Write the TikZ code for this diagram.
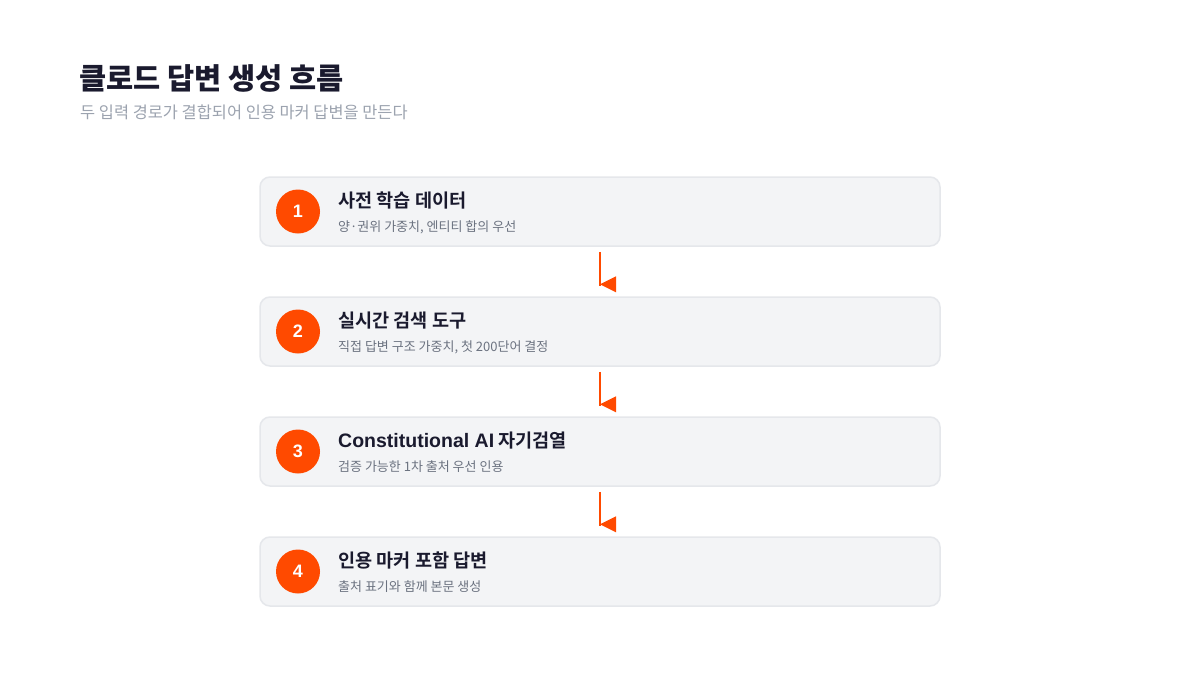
\documentclass[tikz,border=0pt]{standalone}
\usepackage{fontspec}
\setmainfont{Noto Sans CJK KR}[BoldFont={Noto Sans CJK KR Bold}]
\newfontfamily\heavyfont{Noto Sans CJK KR Black}
\newfontfamily\latinfont{Liberation Sans}
\usetikzlibrary{calc}
\definecolor{accent}{HTML}{FF4A00}
\definecolor{boxfill}{HTML}{F3F4F6}
\definecolor{boxline}{HTML}{E5E7EB}
\definecolor{titlecol}{HTML}{1A1A2E}
\definecolor{subcol}{HTML}{9CA3AF}
\definecolor{desccol}{HTML}{6B7280}
\newcommand{\lt}[1]{{\latinfont\fontsize{19.5}{21}\selectfont #1}}
\tikzset{
  stepbox/.style={draw=boxline, line width=1.5pt, fill=boxfill, rounded corners=10pt,
    minimum width=680pt, minimum height=69pt, inner sep=0pt},
  numdot/.style={circle, fill=accent, minimum size=44pt, inner sep=0pt,
    text=white, font=\latinfont\bfseries\fontsize{18}{20}\selectfont},
  steptitle/.style={anchor=west, inner sep=0pt, text=titlecol, font=\bfseries\fontsize{18.6}{21}\selectfont},
  stepdesc/.style={anchor=west, inner sep=0pt, text=desccol, font=\fontsize{13}{15}\selectfont},
  conn/.style={draw=accent, line width=2.8pt},
  tip/.style={fill=accent},
}
\begin{document}
\begin{tikzpicture}[x=1pt,y=-1pt]
\useasboundingbox[fill=white] (0,0) rectangle (1200,675);
\node[anchor=west, inner sep=0pt, text=titlecol, font=\heavyfont\fontsize{29.5}{32}\selectfont] (title) at (79,78) {클로드 답변 생성 흐름};
\node[anchor=west, inner sep=0pt, text=subcol, font=\fontsize{16.4}{18}\selectfont] (subtitle) at (80,112) {두 입력 경로가 결합되어 인용 마커 답변을 만든다};

\foreach \i/\y/\t/\d in {
  1/211.5/{사전 학습 데이터}/{양·권위 가중치, 엔티티 합의 우선},
  2/331.5/{실시간 검색 도구}/{직접 답변 구조 가중치, 첫 200단어 결정},
  3/451.5/{\lt{Constitutional AI} 자기검열}/{검증 가능한 1차 출처 우선 인용},
  4/571.5/{인용 마커 포함 답변}/{출처 표기와 함께 본문 생성}} {
  \node[stepbox] (b\i) at (600,\y) {};
  \node[numdot] (n\i) at (298,\y) {\i};
  \node[steptitle] (t\i) at (338,\y-11) {\t};
  \node[stepdesc] (d\i) at (338,\y+15.5) {\d};
}

\foreach \a/\b in {1/2,2/3,3/4} {
  \path (b\b.north) ++(0,-12) coordinate (tp\a);
  \draw[conn] ([yshift=-5pt]b\a.south) -- ([yshift=-1.5pt]tp\a);
  \fill[tip] (tp\a) -- ++(16,-8) -- ++(0,16) -- cycle;
}
\end{tikzpicture}
\end{document}
